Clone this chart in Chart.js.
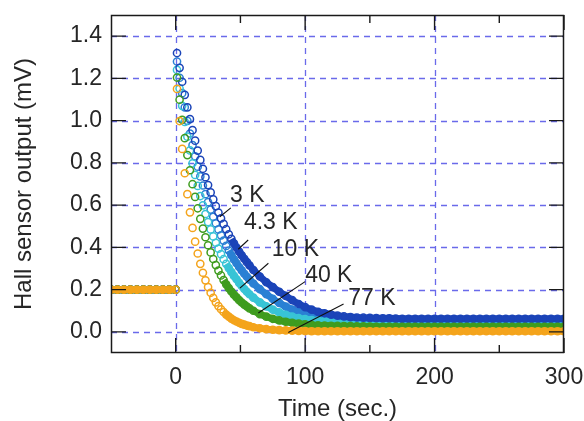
<!DOCTYPE html>
<html><head><meta charset="utf-8">
<script src="https://cdn.jsdelivr.net/npm/chart.js@4.4.0/dist/chart.umd.min.js"></script>
<style>html,body{margin:0;padding:0;background:#fff;}#wrap{width:584px;height:421px;position:relative;}</style>
</head><body><div id="wrap"><canvas id="c"></canvas></div>
<script>
// ---- data ----
const times = [-50,-45,-40,-35,-30,-25,-20,-15,-10,-5,0, 0.5,
 1,3,5,7,9,11,13,15,17,19,21,23,25,27,29,31,33,35,37,39,41,43,45,47,49,51,53,55,57,
 60,65,70,75,80,85,90,95,100,105,110,115,120,125,130,135,140,145,150,155,160,165,170,175,180,185,190,195,200,205,210,215,220,225,230,235,240,245,250,255,260,265,270,275,280,285,290,295,300];

const pre = [0.2,0.2,0.2,0.2,0.2,0.2,0.2,0.2,0.2,0.2,0.2, null];

const v3K = pre.concat([
 1.32,1.25,1.184,1.122,1.063,1.007,0.955,0.905,0.858,0.814,0.772,0.732,0.695,0.66,0.627,0.595,0.565,0.537,0.511,0.486,0.462,0.44,0.419,0.399,0.38,0.362,0.346,0.33,0.315,
 0.293,0.262,0.235,0.212,0.19,0.17,0.15,0.132,0.117,0.105,0.095,0.088,0.082,0.077,0.073,0.07,0.068,0.067,0.066,0.065,0.064,0.064,0.063,
 0.062,0.062,0.062,0.062,0.062,0.062,0.062,0.062,0.062,0.062,0.062,0.062,0.062,0.062,0.062,0.062,0.062,0.062,0.062,0.062,0.062,0.062,0.062,0.062,0.062,0.062]);

const v43K = pre.concat([
 1.28,1.203,1.13,1.063,0.999,0.939,0.884,0.831,0.782,0.736,0.693,0.652,0.614,0.579,0.545,0.514,0.485,0.457,0.432,0.407,0.385,0.363,0.343,0.325,0.307,0.291,0.275,0.261,0.247,
 0.229,0.202,0.178,0.156,0.137,0.12,0.106,0.094,0.084,0.076,0.069,0.064,0.06,0.057,0.055,0.054,0.053,
 0.052,0.052,0.052,0.052,0.052,0.052,0.052,0.052,0.052,0.052,0.052,0.052,0.052,0.052,0.052,0.052,0.052,0.052,0.052,0.052,0.052,0.052,0.052,0.052,0.052,0.052,0.052,0.052,0.052,0.052,0.052,0.052]);

const v10K = pre.concat([
 1.24,1.152,1.07,0.994,0.924,0.859,0.798,0.743,0.691,0.643,0.599,0.558,0.52,0.485,0.452,0.422,0.394,0.368,0.344,0.322,0.302,0.283,0.265,0.249,0.232,0.217,0.203,0.19,0.178,
 0.162,0.14,0.121,0.105,0.092,0.081,0.072,0.065,0.06,0.056,0.053,0.051,0.049,0.048,0.047,
 0.046,0.046,0.046,0.046,0.046,0.046,0.046,0.046,0.046,0.046,0.046,0.046,0.046,0.046,0.046,0.046,0.046,0.046,0.046,0.046,0.046,0.046,0.046,0.046,0.046,0.046,0.046,0.046,0.046,0.046,0.046,0.046,0.046,0.046]);

const v40K = pre.concat([
 1.204,1.099,1.004,0.917,0.837,0.765,0.699,0.639,0.585,0.535,0.489,0.448,0.41,0.376,0.345,0.316,0.29,0.267,0.245,0.225,0.207,0.191,0.176,0.163,0.15,0.139,0.129,0.12,0.111,
 0.1,0.084,0.072,0.062,0.054,0.048,0.043,0.039,0.036,0.033,0.031,0.03,0.029,0.028,0.027,0.027,0.026,0.026,0.025,
 0.024,0.024,0.024,0.024,0.024,0.024,0.024,0.024,0.024,0.024,0.024,0.024,0.024,0.024,0.024,0.024,0.024,0.024,0.024,0.024,0.024,0.024,0.024,0.024,0.024,0.024,0.024,0.024,0.024,0.024]);

const v77K = pre.concat([
 1.15,0.998,0.866,0.751,0.652,0.566,0.492,0.427,0.371,0.322,0.28,0.244,0.212,0.185,0.161,0.14,0.122,0.107,0.094,0.082,0.072,0.063,0.055,0.049,0.043,0.038,0.034,0.03,0.027,
 0.022,0.017,0.013,0.01,0.008,0.007,0.006,0.005,0.004,
 0.003,0.003,0.003,0.003,0.003,0.003,0.003,0.003,0.003,0.003,0.003,0.003,0.003,0.003,0.003,0.003,0.003,0.003,0.003,0.003,0.003,0.003,0.003,0.003,0.003,0.003,0.003,0.003,0.003,0.003,0.003,0.003,0.003,0.003,0.003,0.003,0.003,0.003,0.003,0.003]);

const seriesNames = ['3 K','4.3 K','10 K','40 K','77 K'];
const seriesValues = [v3K, v43K, v10K, v40K, v77K];
const xTicks = [0,100,200,300];
const xMinorTicks = [50,150,250];
const yTicks = [0,0.2,0.4,0.6,0.8,1.0,1.2,1.4];

// annotation labels: text anchor (data units) and leader line endpoints (data units)
const labelT  = [41.9, 52.7, 74.2, 100.0, 133.3];
const labelV  = [0.646, 0.515, 0.388, 0.266, 0.158];
const leadT0  = [42.6, 56.0, 71.6, 100.0, 129.7];
const leadV0  = [0.587, 0.435, 0.325, 0.238, 0.132];
const leadT1  = [34.1, 48.3, 49.6, 63.8, 87.0];
const leadV1  = [0.545, 0.391, 0.207, 0.089, -0.003];

// ---- styles ----
const colors = ['#1b44b8','#2a80d4','#38c4d6','#3f9c1f','#f4a41c'];
const bandFrom = [0.45, 0.4, 0.33, 0.25, 0.1];   // value below which the dense band look starts
const orders = [2,4,3,1,0];
const FONT = '"Liberation Sans", Arial, Helvetica, sans-serif';
const TXT = '#262626';

const datasets = seriesValues.map((vals,i)=>({
  label: seriesNames[i],
  data: times.map((t,k)=>({x:t, y: vals[k]})),
  showLine: true,
  spanGaps: false,
  borderColor: colors[i],
  borderWidth: 7,
  pointRadius: 3.6,
  pointBorderWidth: 1.5,
  pointBackgroundColor: 'rgba(0,0,0,0)',
  pointBorderColor: colors[i],
  order: orders[i],
  segment: {
    borderColor: c => (c.p0.parsed.x > 0.9 && c.p0.parsed.y > bandFrom[i]) ? 'rgba(0,0,0,0)' : undefined
  }
}));

const framePlugin = {
  id: 'frame',
  beforeDatasetsDraw(chart){
    const {ctx, chartArea:a, scales:{x,y}} = chart;
    ctx.save();
    ctx.strokeStyle = '#6a6aea';
    ctx.lineWidth = 1.3;
    ctx.setLineDash([6,5]);
    xTicks.forEach(v=>{ const px = Math.round(x.getPixelForValue(v))+0.5; if(px < a.right-2){ ctx.beginPath(); ctx.moveTo(px,a.top); ctx.lineTo(px,a.bottom); ctx.stroke(); }});
    yTicks.forEach(v=>{ const py = Math.round(y.getPixelForValue(v))+0.5; ctx.beginPath(); ctx.moveTo(a.left,py); ctx.lineTo(a.right,py); ctx.stroke(); });
    ctx.restore();
  },
  afterDatasetsDraw(chart){
    const {ctx, chartArea:a, scales:{x,y}} = chart;
    ctx.save();
    ctx.setLineDash([]);
    ctx.strokeStyle = '#111'; ctx.lineWidth = 1.1;
    for(let i=0;i<seriesNames.length;i++){
      ctx.beginPath();
      ctx.moveTo(x.getPixelForValue(leadT0[i]), y.getPixelForValue(leadV0[i]));
      ctx.lineTo(x.getPixelForValue(leadT1[i]), y.getPixelForValue(leadV1[i]));
      ctx.stroke();
    }
    ctx.fillStyle = TXT; ctx.font = '23px ' + FONT; ctx.textAlign = 'left'; ctx.textBaseline = 'middle';
    for(let i=0;i<seriesNames.length;i++){
      ctx.fillText(seriesNames[i], x.getPixelForValue(labelT[i]), y.getPixelForValue(labelV[i]));
    }
    ctx.strokeStyle = '#1a1a1a'; ctx.lineWidth = 1.5;
    ctx.strokeRect(a.left+0.5, a.top+0.5, a.right-a.left-1, a.bottom-a.top-1);
    ctx.lineWidth = 1.4;
    const major = 15, minor = 8;
    ctx.beginPath();
    xTicks.forEach(v=>{ const px = x.getPixelForValue(v); ctx.moveTo(px,a.bottom); ctx.lineTo(px,a.bottom-major); ctx.moveTo(px,a.top); ctx.lineTo(px,a.top+major); });
    xMinorTicks.forEach(v=>{ const px = x.getPixelForValue(v); ctx.moveTo(px,a.bottom); ctx.lineTo(px,a.bottom-minor); ctx.moveTo(px,a.top); ctx.lineTo(px,a.top+minor); });
    yTicks.forEach(v=>{ const py = y.getPixelForValue(v); ctx.moveTo(a.left,py); ctx.lineTo(a.left+major,py); ctx.moveTo(a.right,py); ctx.lineTo(a.right-major,py); });
    ctx.stroke();
    ctx.restore();
  }
};

new Chart(document.getElementById('c'), {
  type: 'scatter',
  data: { datasets },
  options: {
    responsive: true, maintainAspectRatio: false, animation: false, devicePixelRatio: 1,
    layout: { padding: { top: 15, right: 20, left: 0, bottom: 0 } },
    plugins: { legend: { display: false }, tooltip: { enabled: false } },
    scales: {
      x: {
        type: 'linear', min: -50, max: 300,
        afterBuildTicks: s => { s.ticks = xTicks.map(v=>({value:v})); },
        afterFit: s => { s.height = 68; s.paddingLeft = 0; s.paddingRight = 0; },
        grid: { display: false, drawTicks: false }, border: { display: false },
        ticks: { font: { family: FONT, size: 23 }, color: TXT, padding: 11, maxRotation: 0, autoSkip: false },
        title: { display: true, text: 'Time (sec.)', color: TXT, font: { family: FONT, size: 24, lineHeight: 1 }, padding: { top: 0, bottom: 0 } }
      },
      y: {
        type: 'linear', min: -0.1, max: 1.5,
        afterBuildTicks: s => { s.ticks = yTicks.map(v=>({value:v})); },
        afterFit: s => { s.width = 111; s.paddingTop = 0; s.paddingBottom = 0; },
        grid: { display: false, drawTicks: false }, border: { display: false },
        ticks: { font: { family: FONT, size: 23 }, color: TXT, padding: 9, autoSkip: false, callback: v => v.toFixed(1) },
        title: { display: true, text: 'Hall sensor output (mV)', color: TXT, font: { family: FONT, size: 24, lineHeight: 1 }, padding: { top: 12, bottom: 0 } }
      }
    }
  },
  plugins: [framePlugin]
});
</script></body></html>
